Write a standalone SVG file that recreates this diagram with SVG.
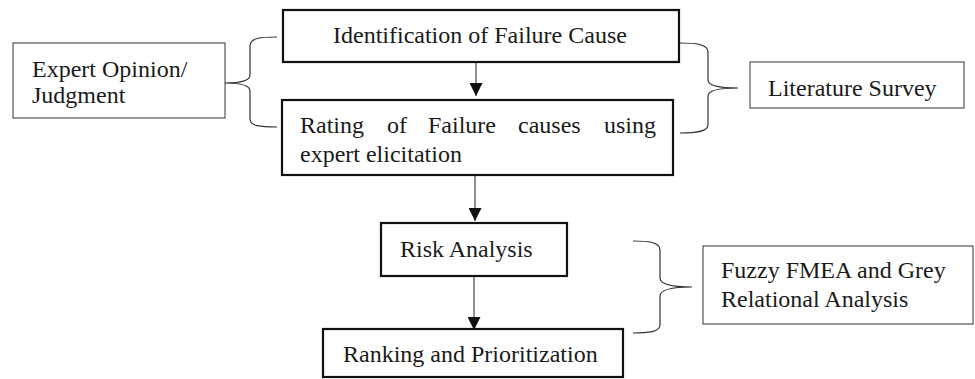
<svg xmlns="http://www.w3.org/2000/svg" width="975" height="379" viewBox="0 0 975 379">
<defs>
<style>
.main{fill:#fff;stroke:#111;stroke-width:2.2}
.side{fill:#fff;stroke:#333;stroke-width:1}
.t{font-family:"Liberation Serif","Times New Roman",serif;font-size:24px;fill:#1a1a1a}
.ln{fill:none;stroke:#444;stroke-width:1.2}
.br{fill:none;stroke:#333;stroke-width:1.2}
</style>
<marker id="ah" markerWidth="13" markerHeight="13" refX="13" refY="6.5" orient="auto" markerUnits="userSpaceOnUse">
<path d="M0,0 L13,6.5 L0,13 Z" fill="#111"/>
</marker>
</defs>
<rect width="975" height="379" fill="#fff"/>
<g id="connectors">
<line class="ln" x1="476" y1="62" x2="476" y2="96" marker-end="url(#ah)"/>
<line class="ln" x1="475" y1="175" x2="475" y2="221" marker-end="url(#ah)"/>
<line class="ln" x1="474" y1="276" x2="474" y2="330" marker-end="url(#ah)"/>
<path class="br" d="M277,37 C260,37 250,38 250,46 L250,75 C250,81 240,83 225,83 C240,83 250,85 250,91 L250,119 C250,126 260,127 277,127"/>
<path class="br" d="M680,43 C695,43 708,44 708,52 L708,80 C708,86 720,88 738,88 C720,88 708,90 708,96 L708,125 C708,132 695,133 680,133"/>
<path class="br" d="M633,241 C648,241 660,242 660,250 L660,278 C660,284 672,287 692,287 C672,287 660,290 660,296 L660,325 C660,332 648,333 633,333"/>
</g>
<g id="identification">
<rect class="main" x="283" y="10" width="396" height="52"/>
<text class="t" x="333" y="43">Identification of Failure Cause</text>
</g>
<g id="rating">
<rect class="main" x="282" y="100" width="391" height="75"/>
<text class="t" y="133"><tspan x="300">Rating</tspan><tspan x="387">of</tspan><tspan x="428">Failure</tspan><tspan x="518">causes</tspan><tspan x="604">using</tspan></text>
<text class="t" x="300" y="162">expert elicitation</text>
</g>
<g id="expert">
<rect class="side" x="13" y="43" width="212" height="75"/>
<text class="t" x="32" y="77">Expert Opinion/</text>
<text class="t" x="32" y="103">Judgment</text>
</g>
<g id="literature">
<rect class="side" x="750" y="62" width="214" height="46"/>
<text class="t" x="768" y="96">Literature Survey</text>
</g>
<g id="risk">
<rect class="main" x="381" y="223" width="186" height="53"/>
<text class="t" x="400" y="257">Risk Analysis</text>
</g>
<g id="ranking">
<rect class="main" x="323" y="329" width="300" height="48"/>
<text class="t" x="343" y="362">Ranking and Prioritization</text>
</g>
<g id="fuzzy">
<rect class="side" x="703" y="246" width="270" height="78"/>
<text class="t" x="721" y="278">Fuzzy FMEA and Grey</text>
<text class="t" x="721" y="307">Relational Analysis</text>
</g>
</svg>
